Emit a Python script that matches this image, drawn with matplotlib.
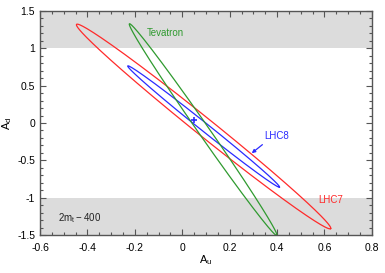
import numpy as np
import matplotlib
matplotlib.use("Agg")
import matplotlib.pyplot as plt

plt.rcParams['font.family'] = ['Liberation Sans', 'DejaVu Sans']

# ellipse contours: centre, offset to tip (major), offset across (minor)
names = ["LHC7", "LHC8", "Tevatron"]
centers = [(0.090, -0.047), (0.090, -0.047), (0.088, -0.089)]
major = [(0.536, -1.367), (0.320, -0.811), (0.311, -1.417)]
minor = [(0.024, 0.093), (0.011, 0.042), (0.019, 0.041)]
colors = ["#ff2a2a", "#2a2aff", "#2f9a2f"]

best_fit = (0.05, 0.04)
bands = [(1.0, 1.5), (-1.5, -1.0)]

fig = plt.figure(figsize=(3.85, 2.73), dpi=100)
ax = fig.add_axes([0.104, 0.139, 0.862, 0.821])

for lo, hi in bands:
    ax.axhspan(lo, hi, color="#dcdcdc", lw=0, zorder=0)

t = np.linspace(0, 2*np.pi, 400)
for c, a, b, col in zip(centers, major, minor, colors):
    x = c[0] + a[0]*np.cos(t) + b[0]*np.sin(t)
    y = c[1] + a[1]*np.cos(t) + b[1]*np.sin(t)
    ax.plot(x, y, color=col, lw=0.9, zorder=2)

ax.plot(*best_fit, marker="+", color=colors[1], ms=5, mew=1.2, zorder=3)

ax.text(-0.15, 1.2, "Tevatron", color=colors[2], fontsize=7, va="center")
ax.text(0.572, -1.03, "LHC7", color=colors[0], fontsize=7, va="center")
ax.text(0.345, -0.17, "LHC8", color=colors[1], fontsize=7, va="center")
ax.annotate("", xy=(0.293, -0.404), xytext=(0.338, -0.29),
            arrowprops=dict(arrowstyle="-|>", color=colors[1], lw=0.9,
                            mutation_scale=5, shrinkA=0, shrinkB=0))
ax.text(-0.525, -1.27, "$\\mathregular{2m_t - 400}$", color="#222222",
        fontsize=7, va="center")

ax.set_xlim(-0.6, 0.8)
ax.set_ylim(-1.5, 1.5)
ax.set_xticks(np.arange(-0.6, 0.81, 0.2))
ax.set_xticklabels(["-0.6", "-0.4", "-0.2", "0", "0.2", "0.4", "0.6", "0.8"])
ax.set_yticks([-1.5, -1, -0.5, 0, 0.5, 1, 1.5])
ax.set_yticklabels(["-1.5", "-1", "-0.5", "0", "0.5", "1", "1.5"])
ax.set_xticks(np.arange(-0.6, 0.81, 0.05), minor=True)
ax.set_yticks(np.arange(-1.5, 1.51, 0.1), minor=True)
ax.tick_params(which="both", direction="in", top=True, right=True,
               labelsize=7.5, color="#555555", width=0.8)
ax.tick_params(which="major", length=4)
ax.tick_params(which="minor", length=2)
ax.tick_params(axis="x", pad=6)
for s in ax.spines.values():
    s.set_color("#555555")
    s.set_linewidth(1.0)

ax.set_xlabel("$\\mathregular{A_u}$", fontsize=8, labelpad=0)
ax.set_ylabel("$\\mathregular{A_d}$", fontsize=8, labelpad=2)

fig.savefig("out.png", dpi=100)
